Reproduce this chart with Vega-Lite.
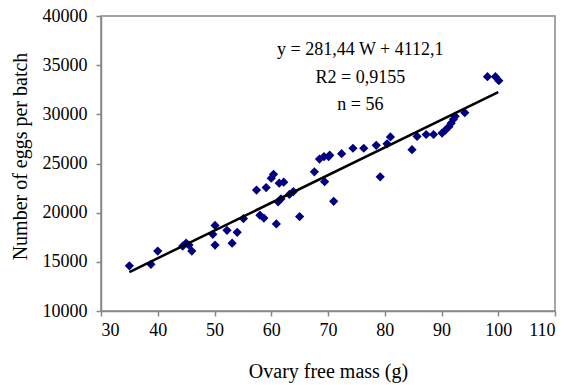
{
  "$schema": "https://vega.github.io/schema/vega-lite/v6.json",
  "autosize": "none",
  "padding": {"left": 101, "top": 16, "right": 23, "bottom": 74},
  "width": 454,
  "height": 295,
  "background": "white",
  "config": {
    "font": "Liberation Serif",
    "view": {"stroke": "#888888", "strokeWidth": 1.5},
    "axis": {
      "grid": false,
      "domainColor": "#888888",
      "domainWidth": 1.5,
      "tickColor": "#888888",
      "tickWidth": 1.5,
      "tickSize": 5,
      "labelFont": "Liberation Serif",
      "labelFontSize": 18,
      "labelColor": "black",
      "titleFont": "Liberation Serif",
      "titleFontSize": 20,
      "titleFontWeight": "normal",
      "titleColor": "black"
    }
  },
  "datasets": {
    "points": [
      {"mass": 35, "eggs": 14600},
      {"mass": 38.8, "eggs": 14750},
      {"mass": 40, "eggs": 16100},
      {"mass": 44.4, "eggs": 16600},
      {"mass": 45, "eggs": 16900},
      {"mass": 45.5, "eggs": 16700},
      {"mass": 46, "eggs": 16100},
      {"mass": 49.7, "eggs": 17800},
      {"mass": 50.1, "eggs": 18700},
      {"mass": 50.1, "eggs": 16700},
      {"mass": 52.2, "eggs": 18200},
      {"mass": 53.1, "eggs": 16900},
      {"mass": 54, "eggs": 18000},
      {"mass": 55.1, "eggs": 19400},
      {"mass": 57.4, "eggs": 22300},
      {"mass": 58, "eggs": 19750},
      {"mass": 58.7, "eggs": 19450},
      {"mass": 59.1, "eggs": 22550},
      {"mass": 60, "eggs": 23500},
      {"mass": 60.4, "eggs": 23900},
      {"mass": 60.9, "eggs": 18850},
      {"mass": 61.2, "eggs": 21100},
      {"mass": 61.4, "eggs": 23000},
      {"mass": 61.7, "eggs": 21400},
      {"mass": 62.2, "eggs": 23100},
      {"mass": 63.2, "eggs": 21850},
      {"mass": 63.9, "eggs": 22150},
      {"mass": 65, "eggs": 19600},
      {"mass": 67.6, "eggs": 24150},
      {"mass": 68.5, "eggs": 25450},
      {"mass": 69.3, "eggs": 25700},
      {"mass": 69.4, "eggs": 23150},
      {"mass": 70.3, "eggs": 25850},
      {"mass": 70.1, "eggs": 25700},
      {"mass": 71, "eggs": 21150},
      {"mass": 72.4, "eggs": 26000},
      {"mass": 74.4, "eggs": 26550},
      {"mass": 76.3, "eggs": 26550},
      {"mass": 78.5, "eggs": 26850},
      {"mass": 79.2, "eggs": 23650},
      {"mass": 80.4, "eggs": 27000},
      {"mass": 81, "eggs": 27700},
      {"mass": 84.8, "eggs": 26400},
      {"mass": 85.7, "eggs": 27750},
      {"mass": 87.3, "eggs": 27950},
      {"mass": 88.6, "eggs": 27950},
      {"mass": 90.1, "eggs": 28100},
      {"mass": 90.7, "eggs": 28400},
      {"mass": 91.3, "eggs": 28750},
      {"mass": 91.7, "eggs": 29100},
      {"mass": 92.1, "eggs": 29500},
      {"mass": 92.4, "eggs": 29800},
      {"mass": 94.1, "eggs": 30170},
      {"mass": 98.1, "eggs": 33830},
      {"mass": 99.5, "eggs": 33830},
      {"mass": 100.1, "eggs": 33420}
    ],
    "fit": [
      {"mass": 35, "eggs": 13962},
      {"mass": 100, "eggs": 32256}
    ],
    "notes": [
      {"mass": 75.7, "eggs": 36000, "label": "y = 281,44 W + 4112,1"},
      {"mass": 75.7, "eggs": 33200, "label": "R2 = 0,9155"},
      {"mass": 75.7, "eggs": 30450, "label": "n = 56"}
    ]
  },
  "layer": [
    {
      "data": {"name": "points"},
      "mark": {"type": "point", "shape": "diamond", "filled": true, "color": "#000080", "size": 85, "opacity": 1},
      "encoding": {
        "x": {
          "field": "mass", "type": "quantitative",
          "scale": {"domain": [30, 110], "nice": false, "zero": false},
          "axis": {"values": [30, 40, 50, 60, 70, 80, 90, 100, 110], "title": "Ovary free mass (g)", "labelPadding": 5, "titlePadding": 22}
        },
        "y": {
          "field": "eggs", "type": "quantitative",
          "scale": {"domain": [10000, 40000], "nice": false, "zero": false},
          "axis": {"values": [10000, 15000, 20000, 25000, 30000, 35000, 40000], "title": "Number of eggs per batch", "format": "d", "labelPadding": 9, "titlePadding": 12, "titleY": 140}
        }
      }
    },
    {
      "data": {"name": "fit"},
      "mark": {"type": "line", "color": "black", "strokeWidth": 2.5},
      "encoding": {
        "x": {"field": "mass", "type": "quantitative"},
        "y": {"field": "eggs", "type": "quantitative"}
      }
    },
    {
      "data": {"name": "notes"},
      "mark": {"type": "text", "font": "Liberation Serif", "fontSize": 18, "align": "center", "baseline": "alphabetic", "color": "black"},
      "encoding": {
        "x": {"field": "mass", "type": "quantitative"},
        "y": {"field": "eggs", "type": "quantitative"},
        "text": {"field": "label"}
      }
    }
  ]
}
